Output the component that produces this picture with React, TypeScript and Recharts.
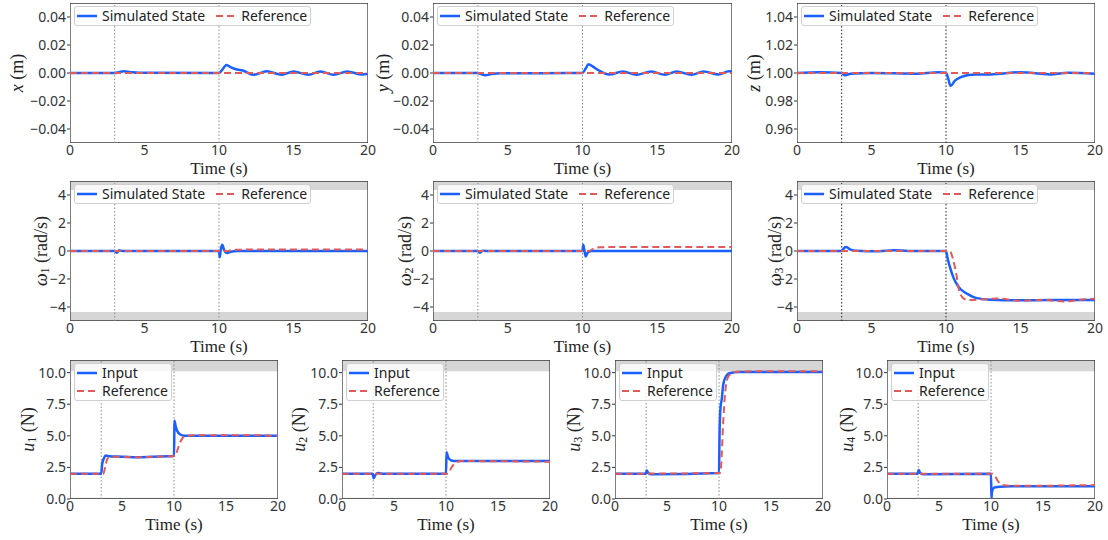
import React from "react";
import { Legend, Line, LineChart, ReferenceArea, ReferenceLine, XAxis, YAxis } from "recharts";

const timeTicks = [0, 5, 10, 15, 20];
const posTicks = [-0.04, -0.02, 0, 0.02, 0.04];
const heightTicks = [0.96, 0.98, 1.0, 1.02, 1.04];
const rateTicks = [-4, -2, 0, 2, 4];
const inputTicks = [0, 2.5, 5, 7.5, 10];
const events = [3, 10];

// position x
const xT = [0, 3.0, 3.3, 3.6, 4.0, 4.6, 10.0, 10.2, 10.5, 10.8, 11.2, 11.6, 12.3, 13.2, 14.2, 15.0, 16.0, 16.8, 17.7, 18.6, 19.6, 20];
const xSim = [0, 0, 0.0006, 0.0012, 0.0008, 0.0002, 0, 0.002, 0.0058, 0.004, 0.0025, 0.0018, -0.0013, 0.0012, -0.0012, 0.0011, -0.0013, 0.0011, -0.0012, 0.0011, -0.0011, -0.0006];
// position y
const yT = [0, 3.0, 3.2, 3.5, 3.9, 4.5, 10.0, 10.2, 10.4, 10.7, 11.1, 11.8, 12.7, 13.6, 14.6, 15.5, 16.3, 17.3, 18.1, 19.1, 19.8, 20];
const ySim = [0, 0, -0.0008, -0.0016, -0.0008, -0.0002, 0, 0.003, 0.0062, 0.0045, 0.0018, -0.0011, 0.0011, -0.0012, 0.0011, -0.0012, 0.0011, -0.0012, 0.0011, -0.0011, 0.0012, 0.001];
// position z
const zT = [0, 1.5, 3.0, 3.2, 3.6, 5, 8, 9.5, 10.0, 10.15, 10.3, 10.6, 11.0, 11.5, 12.0, 13, 15, 17, 18.2, 20];
const zSim = [1.0, 1.0005, 1.0, 0.9984, 0.9995, 1.0, 0.9995, 1.0005, 1.0002, 0.996, 0.9908, 0.9945, 0.997, 0.9985, 0.999, 0.999, 1.0005, 0.999, 1.0002, 0.9995];
const flatT = [0, 20];
const xRef = [0, 0];
const yRef = [0, 0];
const zRef = [1, 1];

// angular rates
const w1T = [0, 3.0, 3.15, 3.3, 3.5, 10.0, 10.05, 10.12, 10.22, 10.35, 10.5, 10.8, 11.2, 20];
const w1Sim = [0, 0, -0.12, 0.05, 0, 0, -0.45, 0.1, 0.45, 0.05, -0.15, -0.05, 0, 0];
const w1RefT = [0, 10.5, 11, 12, 20];
const w1Ref = [0, 0, 0.08, 0.1, 0.1];

const w2T = [0, 3.0, 3.15, 3.3, 3.5, 10.0, 10.05, 10.12, 10.22, 10.35, 10.6, 11, 20];
const w2Sim = [0, 0, -0.12, 0.02, 0, 0, 0.45, 0.1, -0.4, -0.1, 0, 0, 0];
const w2RefT = [0, 10.4, 10.8, 11.2, 12, 20];
const w2Ref = [0, 0, 0.2, 0.27, 0.28, 0.28];

const w3T = [0, 3.0, 3.15, 3.3, 3.6, 4.0, 5.5, 6.5, 8, 10.0, 10.1, 10.25, 10.5, 10.8, 11.0, 11.5, 12.0, 13.0, 15, 17, 20];
const w3Sim = [0, 0, 0.2, 0.28, 0.1, 0.02, -0.02, 0.05, 0, 0, -0.5, -1.1, -1.9, -2.5, -2.75, -3.1, -3.35, -3.48, -3.52, -3.5, -3.5];
const w3RefT = [0, 10.25, 10.45, 10.7, 10.9, 11.2, 11.5, 12.5, 13.5, 15, 16.5, 18, 19.3, 20];
const w3Ref = [0, 0, -0.5, -1.7, -2.9, -3.4, -3.5, -3.45, -3.4, -3.55, -3.5, -3.6, -3.45, -3.4];

// inputs
const u1T = [0, 3.0, 3.1, 3.25, 3.45, 3.8, 5, 6.5, 8, 9.5, 10.0, 10.05, 10.15, 10.3, 10.6, 11.0, 12, 20];
const u1Sim = [2.0, 2.0, 2.8, 3.2, 3.45, 3.38, 3.35, 3.3, 3.35, 3.38, 3.4, 6.2, 5.8, 5.4, 5.1, 5.0, 5.0, 5.0];
const u1RefT = [0, 3.2, 3.4, 3.6, 3.9, 5, 6.5, 8, 10.1, 10.3, 10.5, 10.8, 11.1, 13, 15, 17, 20];
const u1Ref = [2.0, 2.0, 2.6, 3.2, 3.35, 3.35, 3.3, 3.35, 3.4, 3.8, 4.3, 4.8, 5.0, 5.05, 5.05, 5.05, 5.0];

const u2T = [0, 2.95, 3.05, 3.2, 3.5, 4, 10.0, 10.05, 10.2, 10.5, 11, 20];
const u2Sim = [2.0, 2.0, 1.65, 1.9, 2.05, 2.0, 2.0, 3.7, 3.3, 3.05, 3.0, 3.0];
const u2RefT = [0, 10.2, 10.5, 10.8, 11.1, 11.5, 20];
const u2Ref = [2.0, 2.0, 2.45, 2.8, 2.95, 3.0, 2.95];

const u3T = [0, 2.95, 3.05, 3.2, 3.5, 10.0, 10.05, 10.15, 10.25, 10.4, 10.6, 11, 12, 20];
const u3Sim = [2.0, 2.0, 2.25, 2.05, 1.95, 2.05, 5.0, 7.3, 7.8, 9.0, 9.6, 9.95, 10.05, 10.05];
const u3RefT = [0, 10.1, 10.2, 10.4, 10.6, 10.9, 11.5, 13, 20];
const u3Ref = [2.0, 2.05, 2.6, 6.0, 8.5, 9.7, 10.05, 10.1, 10.1];

const u4T = [0, 2.95, 3.05, 3.2, 3.5, 10.0, 10.04, 10.1, 10.3, 10.6, 12, 20];
const u4Sim = [2.0, 2.0, 2.3, 2.05, 1.95, 2.0, 0.05, 0.6, 0.9, 0.95, 1.0, 1.0];
const u4RefT = [0, 10.15, 10.4, 10.6, 10.9, 11.3, 12, 15, 18, 20];
const u4Ref = [2.0, 2.0, 1.8, 1.5, 1.2, 1.08, 1.05, 1.05, 1.08, 1.1];

const rateBands: [number, number][] = [[4.35, 5], [-5, -4.35]];
const inputBands: [number, number][] = [[10.1, 11], [0, 0.1]];

const pts = (t: number[], v: number[]) => t.map((x, i) => ({ t: x, v: v[i] }));
const minus = (s: string) => s.replace("-", "\u2212");
const fmt2 = (v: number) => minus(v.toFixed(2));
const fmt0 = (v: number) => minus(String(v));
const fmt1 = (v: number) => v.toFixed(1);

const BLUE = "#1a5fff";
const RED = "#e05a5a";
const tickStyle = { fill: "#333", fontSize: 14, fontFamily: "Noto Sans" };
const serif = "Liberation Serif";

function LegendBox({ names, stacked }: { names: string[]; stacked: boolean }) {
  const item = (name: string, dashed: boolean) => (
    <div key={name} style={{ display: "flex", alignItems: "center", height: 18 }}>
      <svg width={20} height={10}>
        <line x1={0} y1={5} x2={20} y2={5} stroke={dashed ? RED : BLUE} strokeWidth={dashed ? 2 : 2.5} strokeDasharray={dashed ? "7 4" : undefined} />
      </svg>
      <span style={{ marginLeft: 5 }}>{name}</span>
    </div>
  );
  return (
    <div
      style={{
        display: "flex",
        flexDirection: stacked ? "column" : "row",
        gap: stacked ? 0 : 11,
        padding: "0 3px 0 2px",
        background: "rgba(255,255,255,0.8)",
        border: "1px solid #cfcfcf",
        borderRadius: 3,
        fontFamily: "Noto Sans",
        fontSize: 14,
        color: "#222",
        lineHeight: "18px",
        whiteSpace: "nowrap",
      }}
    >
      {item(names[0], false)}
      {item(names[1], true)}
    </div>
  );
}

type PanelProps = {
  left: number;
  top: number;
  w: number;
  h: number;
  domain: [number, number];
  ticks: number[];
  fmt: (v: number) => string;
  sim: { t: number; v: number }[];
  ref: { t: number; v: number }[];
  names: string[];
  stacked?: boolean;
  label: React.ReactNode;
  labelOff: number;
  bands?: [number, number][];
  eventColor: string;
};

const LM = 70;
const TM = 3;
const RM = 12;
const BM = 40;

function Panel(p: PanelProps) {
  const width = LM + p.w + RM;
  const height = TM + p.h + BM;
  const yLabel = (lp: any) => {
    const vb = lp.viewBox;
    const cx = vb.x + vb.width - p.labelOff;
    const cy = vb.y + vb.height / 2;
    return (
      <text x={cx} y={cy} transform={`rotate(-90 ${cx} ${cy})`} textAnchor="middle" dominantBaseline="central" fontFamily={serif} fontSize={18} fill="#222">
        {p.label}
      </text>
    );
  };
  const xLabel = (lp: any) => {
    const vb = lp.viewBox;
    return (
      <text x={vb.x + vb.width / 2} y={vb.y + 30.5} textAnchor="middle" fontFamily={serif} fontSize={17} fill="#222">
        Time (s)
      </text>
    );
  };
  return (
    <div style={{ position: "absolute", left: p.left - LM, top: p.top - TM, width, height }}>
      <LineChart width={width} height={height} margin={{ top: TM, right: RM, left: 0, bottom: 0 }}>
        <XAxis dataKey="t" type="number" domain={[0, 20]} ticks={timeTicks} allowDataOverflow height={BM} axisLine={false} tickLine={false} tickSize={0} tickMargin={2} tick={tickStyle} interval={0} label={xLabel} />
        <YAxis type="number" domain={p.domain} ticks={p.ticks} allowDataOverflow width={LM} axisLine={false} tickSize={3} tickMargin={1} tickLine={{ stroke: "#333" }} tick={tickStyle} tickFormatter={p.fmt} interval={0} label={yLabel} />
        {(p.bands || []).map(([a, b], i) => (
          <ReferenceArea key={i} x1={0} x2={20} y1={a} y2={b} fill="#d6d6d6" fillOpacity={1} stroke="none" ifOverflow="hidden" />
        ))}
        {events.map((e) => (
          <ReferenceLine key={e} x={e} stroke={p.eventColor} strokeDasharray="1.5 2" strokeWidth={1} />
        ))}
        <Line data={p.sim} dataKey="v" name={p.names[0]} type="monotone" stroke={BLUE} strokeWidth={2.5} dot={false} isAnimationActive={false} />
        <Line data={p.ref} dataKey="v" name={p.names[1]} type="monotone" stroke={RED} strokeWidth={2} strokeDasharray="7 4" dot={false} isAnimationActive={false} />
        <ReferenceArea x1={0} x2={20} y1={p.domain[0]} y2={p.domain[1]} fill="none" stroke="#3a3a3a" strokeWidth={1.3} ifOverflow="hidden" />
        <Legend
          layout="horizontal"
          verticalAlign="middle"
          align="center"
          wrapperStyle={{ top: TM + 3, left: LM + 4, width: "auto", height: "auto" }}
          content={() => <LegendBox names={p.names} stacked={!!p.stacked} />}
        />
      </LineChart>
    </div>
  );
}

const stateNames = ["Simulated State", "Reference"];
const inputNames = ["Input", "Reference"];

const sub = (v: string, s: string, unit: string) => (
  <>
    <tspan fontStyle="italic">{v}</tspan>
    <tspan dy={4} fontSize={12}>{s}</tspan>
    <tspan dy={-4}> {unit}</tspan>
  </>
);
const plain = (v: string, unit: string) => (
  <>
    <tspan fontStyle="italic">{v}</tspan>
    <tspan> {unit}</tspan>
  </>
);

export default function App() {
  const light = "#8a8a8a";
  const dark = "#222";
  return (
    <div style={{ position: "absolute", left: 0, top: 0, width: 1108, height: 540, background: "#fff", overflow: "hidden" }}>
      <Panel left={70} top={3} w={298} h={140} domain={[-0.05, 0.05]} ticks={posTicks} fmt={fmt2} sim={pts(xT, xSim)} ref={pts(flatT, xRef)} names={stateNames} label={plain("x", "(m)")} labelOff={53} eventColor={light} />
      <Panel left={433} top={3} w={299} h={140} domain={[-0.05, 0.05]} ticks={posTicks} fmt={fmt2} sim={pts(yT, ySim)} ref={pts(flatT, yRef)} names={stateNames} label={plain("y", "(m)")} labelOff={50} eventColor={light} />
      <Panel left={797} top={3} w={298} h={140} domain={[0.95, 1.05]} ticks={heightTicks} fmt={fmt2} sim={pts(zT, zSim)} ref={pts(flatT, zRef)} names={stateNames} label={plain("z", "(m)")} labelOff={43} eventColor={dark} />

      <Panel left={70} top={181} w={298} h={140} domain={[-5, 5]} ticks={rateTicks} fmt={fmt0} sim={pts(w1T, w1Sim)} ref={pts(w1RefT, w1Ref)} names={stateNames} label={sub("ω", "1", "(rad/s)")} labelOff={29} bands={rateBands} eventColor={light} />
      <Panel left={433} top={181} w={299} h={140} domain={[-5, 5]} ticks={rateTicks} fmt={fmt0} sim={pts(w2T, w2Sim)} ref={pts(w2RefT, w2Ref)} names={stateNames} label={sub("ω", "2", "(rad/s)")} labelOff={28} bands={rateBands} eventColor={light} />
      <Panel left={797} top={181} w={298} h={140} domain={[-5, 5]} ticks={rateTicks} fmt={fmt0} sim={pts(w3T, w3Sim)} ref={pts(w3RefT, w3Ref)} names={stateNames} label={sub("ω", "3", "(rad/s)")} labelOff={22} bands={rateBands} eventColor={dark} />

      <Panel left={70} top={360} w={208} h={139} domain={[0, 11]} ticks={inputTicks} fmt={fmt1} sim={pts(u1T, u1Sim)} ref={pts(u1RefT, u1Ref)} names={inputNames} stacked label={sub("u", "1", "(N)")} labelOff={42} bands={inputBands} eventColor={light} />
      <Panel left={342} top={360} w={208} h={139} domain={[0, 11]} ticks={inputTicks} fmt={fmt1} sim={pts(u2T, u2Sim)} ref={pts(u2RefT, u2Ref)} names={inputNames} stacked label={sub("u", "2", "(N)")} labelOff={43} bands={inputBands} eventColor={light} />
      <Panel left={615} top={360} w={208} h={139} domain={[0, 11]} ticks={inputTicks} fmt={fmt1} sim={pts(u3T, u3Sim)} ref={pts(u3RefT, u3Ref)} names={inputNames} stacked label={sub("u", "3", "(N)")} labelOff={41} bands={inputBands} eventColor={light} />
      <Panel left={887} top={360} w={208} h={139} domain={[0, 11]} ticks={inputTicks} fmt={fmt1} sim={pts(u4T, u4Sim)} ref={pts(u4RefT, u4Ref)} names={inputNames} stacked label={sub("u", "4", "(N)")} labelOff={40} bands={inputBands} eventColor={light} />
    </div>
  );
}
